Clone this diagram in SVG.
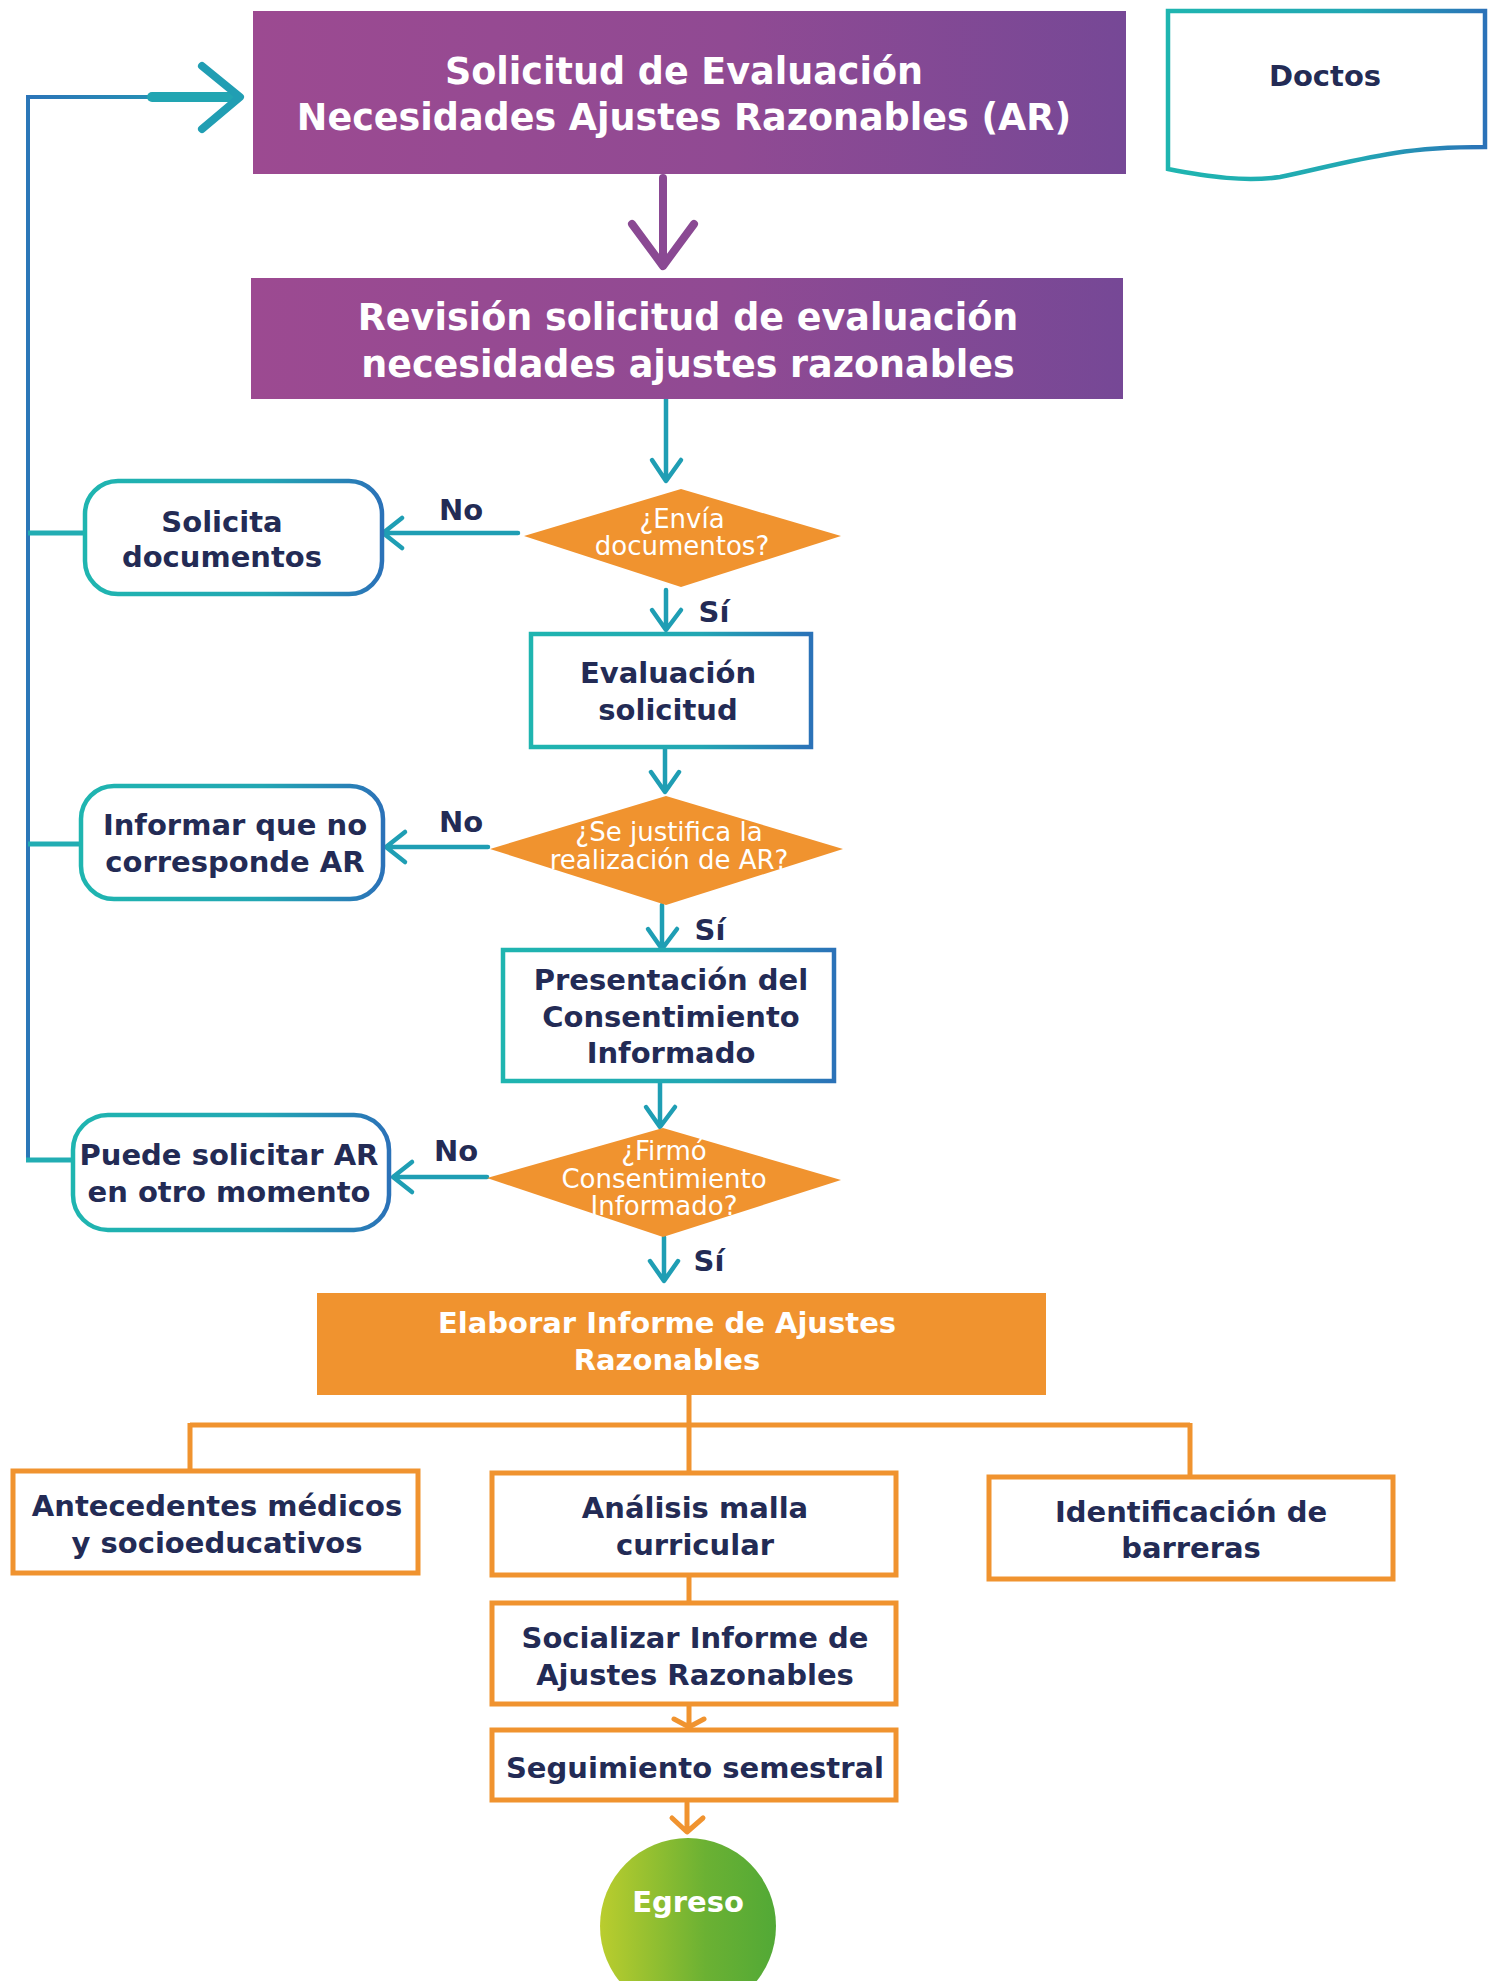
<svg xmlns="http://www.w3.org/2000/svg" width="1490" height="1981" viewBox="0 0 1490 1981">
<defs>
<linearGradient id="gPurple" x1="0" y1="0" x2="1" y2="0"><stop offset="0" stop-color="#9C4A91"/><stop offset="0.55" stop-color="#904A93"/><stop offset="1" stop-color="#764896"/></linearGradient>
<linearGradient id="gTeal" x1="0" y1="0" x2="1" y2="0"><stop offset="0" stop-color="#1FB5B0"/><stop offset="0.6" stop-color="#22A7B3"/><stop offset="1" stop-color="#2B72B8"/></linearGradient>
<linearGradient id="gGreen" x1="0" y1="0" x2="1" y2="0"><stop offset="0" stop-color="#BACD2E"/><stop offset="0.6" stop-color="#6BB133"/><stop offset="1" stop-color="#52A936"/></linearGradient>
<linearGradient id="gArrow" gradientUnits="userSpaceOnUse" x1="28" y1="0" x2="240" y2="0"><stop offset="0" stop-color="#2B74B8"/><stop offset="1" stop-color="#22A3B2"/></linearGradient>
</defs>
<style>
.t{font-family:"DejaVu Sans","Liberation Sans",sans-serif;font-weight:bold;font-size:29px;fill:#232B55;text-anchor:middle}
.w{fill:#FFFFFF}
.big{font-size:36.5px}
.dt{font-family:"DejaVu Sans","Liberation Sans",sans-serif;font-size:26px;fill:#FFFFFF;text-anchor:middle}
.tb{fill:#FFFFFF;stroke:url(#gTeal);stroke-width:4.5}
.ob{fill:#FFFFFF;stroke:#F0932F;stroke-width:5}
.dia{fill:#F0932F}
.ca{fill:none;stroke:#1F9EB4;stroke-width:4.5;stroke-linecap:round;stroke-linejoin:round}
.oa{fill:none;stroke:#F0932F;stroke-width:5;stroke-linecap:round;stroke-linejoin:round}
.lp{fill:none;stroke:#2B77B8;stroke-width:4}
.br{fill:none;stroke:#22ADB3;stroke-width:5}
</style>
<g id="connectors">
<line x1="28" y1="96" x2="28" y2="1160" class="lp"/>
<line x1="26" y1="1160" x2="72" y2="1160" class="br"/>
<line x1="28" y1="533" x2="85" y2="533" class="br"/>
<line x1="28" y1="844" x2="80" y2="844" class="br"/>
<line x1="26" y1="97" x2="152" y2="97" stroke="url(#gArrow)" stroke-width="4"/>
<line x1="152" y1="97" x2="236" y2="97" stroke="#22A5B2" stroke-width="10" stroke-linecap="round"/>
<polyline points="202,66 240,97 202,129" fill="none" stroke="#219EB3" stroke-width="8" stroke-linecap="round" stroke-linejoin="round"/>
<line x1="663" y1="178" x2="663" y2="264" stroke="#8A4993" stroke-width="8" stroke-linecap="round"/>
<polyline points="632,224 663,266 694,224" fill="none" stroke="#8A4993" stroke-width="8" stroke-linecap="round" stroke-linejoin="round"/>
<path class="ca" d="M666,399 V480 M652,460 L666,481 L681,460"/>
<path class="ca" d="M518,533 H384 M402,518 L383,533 L402,548"/>
<path class="ca" d="M666,590 V629 M652,610 L666,630 L681,610"/>
<path class="ca" d="M665,748 V791 M651,772 L665,792 L679,772"/>
<path class="ca" d="M488,847 H387 M405,832 L386,847 L405,862"/>
<path class="ca" d="M662,905 V948 M648,929 L662,949 L677,929"/>
<path class="ca" d="M660,1083 V1126 M646,1107 L660,1127 L675,1107"/>
<path class="ca" d="M487,1177 H394 M412,1162 L393,1177 L412,1192"/>
<path class="ca" d="M664,1237 V1280 M650,1261 L664,1281 L678,1261"/>
<path d="M689,1395 V1425 M190,1425 H1190 M190,1423 V1469 M689,1425 V1471 M1190,1423 V1475 M689,1576 V1601" fill="none" stroke="#F0932F" stroke-width="5"/>
<path class="oa" d="M689,1706 V1726 M674,1719 L689,1727 L704,1719"/>
<path class="oa" d="M687,1803 V1831 M672,1818 L687,1832 L703,1818"/>
</g>
<g id="n-solicitud">
<rect x="253" y="11" width="873" height="163" fill="url(#gPurple)"/>
<text class="t w big" x="684" y="84">Solicitud de Evaluación</text>
<text class="t w big" x="684" y="130">Necesidades Ajustes Razonables (AR)</text>
</g>
<g id="n-doctos">
<path d="M1168,11 H1485 V147 C1450,147 1420,149 1395,153 C1350,160 1315,170 1280,177 C1245,182 1210,177 1168,169 Z" fill="#FFFFFF" stroke="url(#gTeal)" stroke-width="4.5"/>
<text class="t" x="1325" y="86">Doctos</text>
</g>
<g id="n-revision">
<rect x="251" y="278" width="872" height="121" fill="url(#gPurple)"/>
<text class="t w big" x="688" y="330">Revisión solicitud de evaluación</text>
<text class="t w big" x="688" y="377">necesidades ajustes razonables</text>
</g>
<g id="n-envia">
<polygon class="dia" points="681,489 841,536 681,587 524,536"/>
<text class="dt" x="682" y="528">¿Envía</text>
<text class="dt" x="682" y="555">documentos?</text>
</g>
<g id="n-solicita">
<rect class="tb" x="85" y="481" width="297" height="113" rx="33"/>
<text class="t" x="222" y="532">Solicita</text>
<text class="t" x="222" y="567">documentos</text>
</g>
<g id="n-evaluacion">
<rect class="tb" x="531" y="634" width="280" height="113"/>
<text class="t" x="668" y="683">Evaluación</text>
<text class="t" x="668" y="720">solicitud</text>
</g>
<g id="n-justifica">
<polygon class="dia" points="666,796 843,849 666,905 490,849"/>
<text class="dt" x="669" y="841">¿Se justifica la</text>
<text class="dt" x="669" y="869">realización de AR?</text>
</g>
<g id="n-informar">
<rect class="tb" x="81" y="786" width="302" height="113" rx="33"/>
<text class="t" x="235" y="835">Informar que no</text>
<text class="t" x="235" y="872">corresponde AR</text>
</g>
<g id="n-presentacion">
<rect class="tb" x="503" y="950" width="331" height="131"/>
<text class="t" x="671" y="990">Presentación del</text>
<text class="t" x="671" y="1027">Consentimiento</text>
<text class="t" x="671" y="1063">Informado</text>
</g>
<g id="n-firmo">
<polygon class="dia" points="663,1128 841,1180 663,1237 487,1178"/>
<text class="dt" x="664" y="1160">¿Firmó</text>
<text class="dt" x="664" y="1188">Consentimiento</text>
<text class="dt" x="664" y="1215">Informado?</text>
</g>
<g id="n-puede">
<rect class="tb" x="73" y="1115" width="316" height="115" rx="35"/>
<text class="t" x="229" y="1165">Puede solicitar AR</text>
<text class="t" x="229" y="1202">en otro momento</text>
</g>
<g id="labels">
<text class="t" x="461" y="520">No</text>
<text class="t" x="714" y="622">Sí</text>
<text class="t" x="461" y="832">No</text>
<text class="t" x="710" y="940">Sí</text>
<text class="t" x="456" y="1161">No</text>
<text class="t" x="709" y="1271">Sí</text>
</g>
<g id="n-elaborar">
<rect x="317" y="1293" width="729" height="102" fill="#F0932F"/>
<text class="t w" x="667" y="1333">Elaborar Informe de Ajustes</text>
<text class="t w" x="667" y="1370">Razonables</text>
</g>
<g id="n-antecedentes">
<rect class="ob" x="13" y="1471" width="405" height="102"/>
<text class="t" x="217" y="1516">Antecedentes médicos</text>
<text class="t" x="217" y="1553">y socioeducativos</text>
</g>
<g id="n-analisis">
<rect class="ob" x="492" y="1473" width="404" height="102"/>
<text class="t" x="695" y="1518">Análisis malla</text>
<text class="t" x="695" y="1555">curricular</text>
</g>
<g id="n-identificacion">
<rect class="ob" x="989" y="1477" width="404" height="102"/>
<text class="t" x="1191" y="1522">Identificación de</text>
<text class="t" x="1191" y="1558">barreras</text>
</g>
<g id="n-socializar">
<rect class="ob" x="492" y="1603" width="404" height="101"/>
<text class="t" x="695" y="1648">Socializar Informe de</text>
<text class="t" x="695" y="1685">Ajustes Razonables</text>
</g>
<g id="n-seguimiento">
<rect class="ob" x="492" y="1730" width="404" height="70"/>
<text class="t" x="695" y="1778">Seguimiento semestral</text>
</g>
<g id="n-egreso">
<circle cx="688" cy="1926" r="88" fill="url(#gGreen)"/>
<text class="t w" x="688" y="1912">Egreso</text>
</g>
</svg>
